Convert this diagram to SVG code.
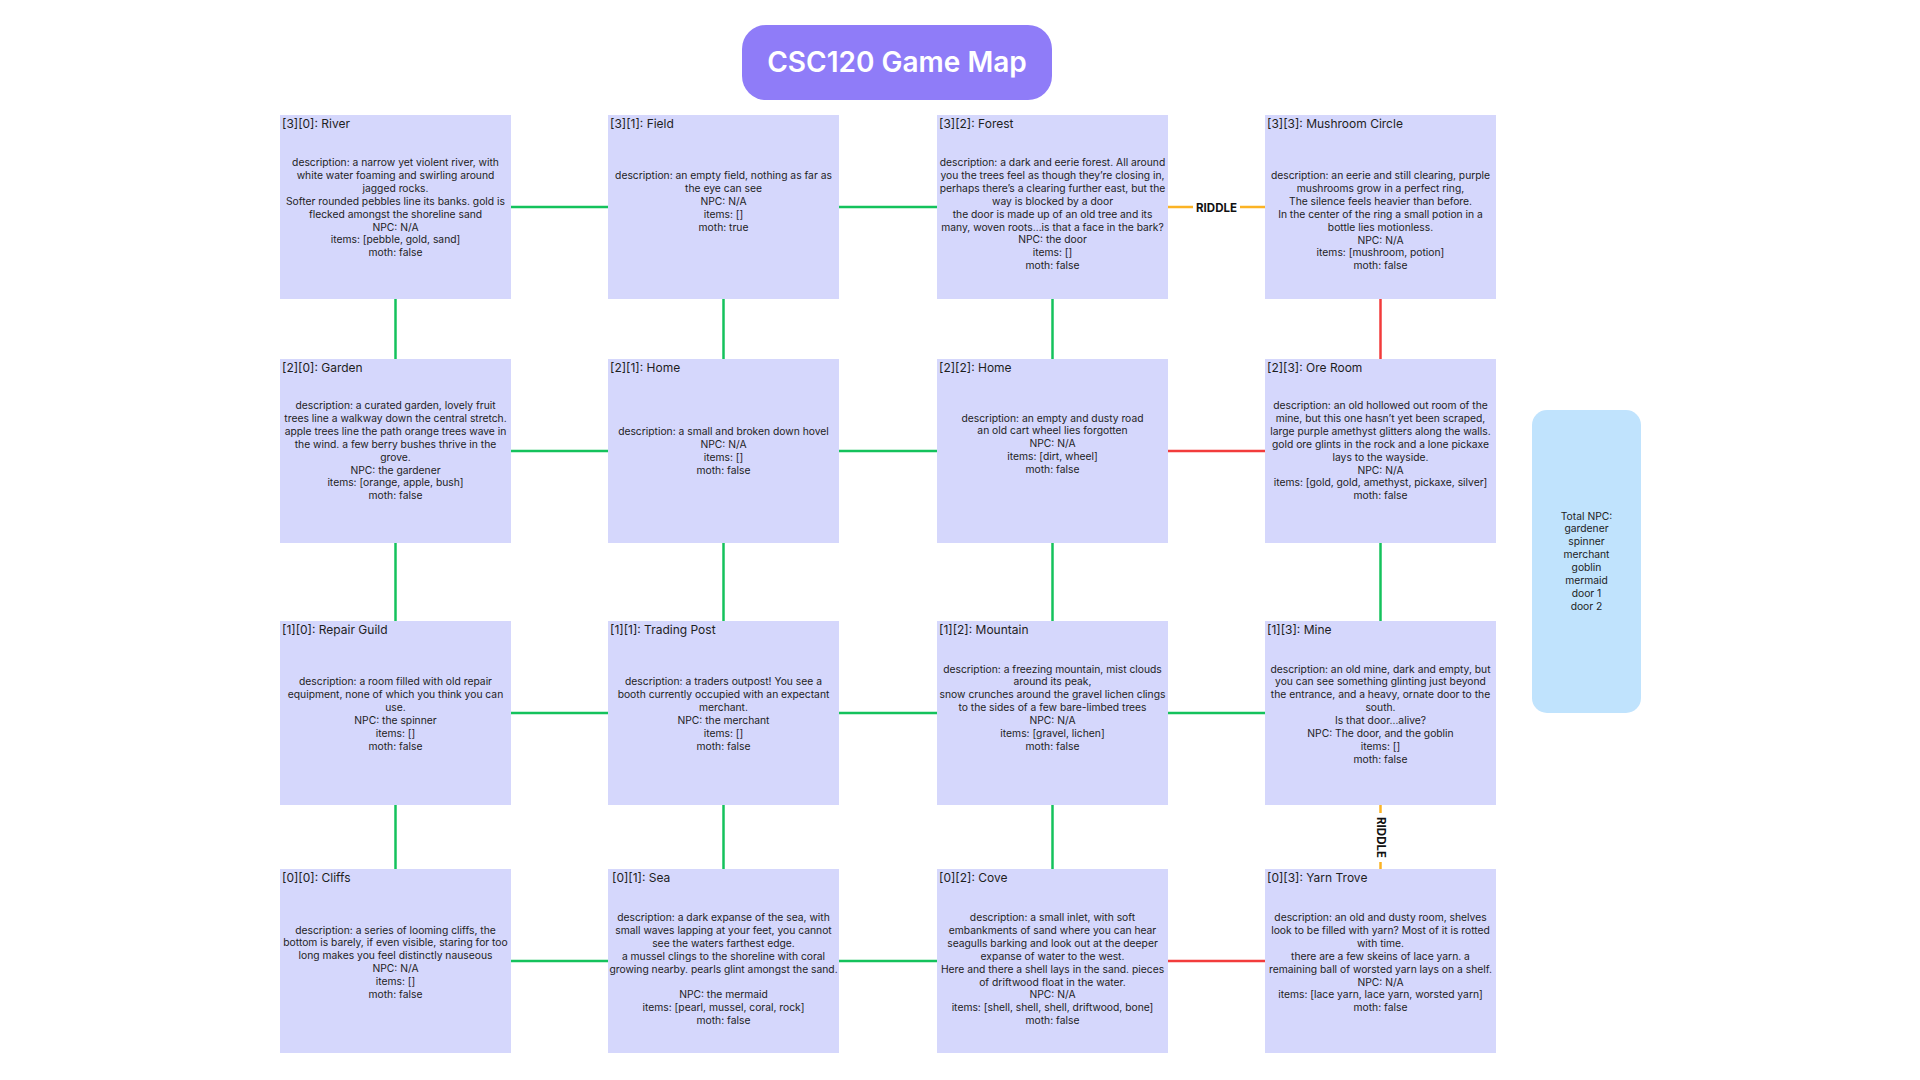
<svg xmlns="http://www.w3.org/2000/svg" width="1920" height="1080" viewBox="0 0 1920 1080">
<style>
.bg{fill:#ffffff}
.node{fill:#d5d7fc}
.t{font-family:Inter,"Liberation Sans",sans-serif;font-size:12px;fill:#1e1e1e}
.d{font-family:Inter,"Liberation Sans",sans-serif;font-size:10.3px;text-anchor:middle;fill:#1e1e1e}
.c{fill:none;stroke-width:2.5}
.g{stroke:#14c25c}
.r{stroke:#f23b3b}
.o{stroke:#fbb324}
.lbl{font-family:Inter,"Liberation Sans",sans-serif;font-size:11.5px;font-weight:700;fill:#111;text-anchor:middle}
</style>
<rect class="bg" x="0" y="0" width="1920" height="1080"/>

<g id="connectors">
  <!-- row 3 -->
  <line class="c g" x1="511" y1="207" x2="608" y2="207"/>
  <line class="c g" x1="839" y1="207" x2="937" y2="207"/>
  <line class="c o" x1="1168" y1="207" x2="1193" y2="207"/>
  <line class="c o" x1="1240" y1="207" x2="1265" y2="207"/>
  <text class="lbl" x="1216.5" y="211.5">RIDDLE</text>
  <!-- row 3 to 2 -->
  <line class="c g" x1="395.5" y1="299" x2="395.5" y2="359"/>
  <line class="c g" x1="723.5" y1="299" x2="723.5" y2="359"/>
  <line class="c g" x1="1052.5" y1="299" x2="1052.5" y2="359"/>
  <line class="c r" x1="1380.5" y1="299" x2="1380.5" y2="359"/>
  <!-- row 2 -->
  <line class="c g" x1="511" y1="451" x2="608" y2="451"/>
  <line class="c g" x1="839" y1="451" x2="937" y2="451"/>
  <line class="c r" x1="1168" y1="451" x2="1265" y2="451"/>
  <!-- row 2 to 1 -->
  <line class="c g" x1="395.5" y1="543" x2="395.5" y2="621"/>
  <line class="c g" x1="723.5" y1="543" x2="723.5" y2="621"/>
  <line class="c g" x1="1052.5" y1="543" x2="1052.5" y2="621"/>
  <line class="c g" x1="1380.5" y1="543" x2="1380.5" y2="621"/>
  <!-- row 1 -->
  <line class="c g" x1="511" y1="713" x2="608" y2="713"/>
  <line class="c g" x1="839" y1="713" x2="937" y2="713"/>
  <line class="c g" x1="1168" y1="713" x2="1265" y2="713"/>
  <!-- row 1 to 0 -->
  <line class="c g" x1="395.5" y1="805" x2="395.5" y2="869"/>
  <line class="c g" x1="723.5" y1="805" x2="723.5" y2="869"/>
  <line class="c g" x1="1052.5" y1="805" x2="1052.5" y2="869"/>
  <line class="c o" x1="1380.5" y1="805" x2="1380.5" y2="813"/>
  <line class="c o" x1="1380.5" y1="862" x2="1380.5" y2="869"/>
  <text class="lbl" x="1380.5" y="837.5" transform="rotate(90 1380.5 837.5)" dy="4">RIDDLE</text>
  <!-- row 0 -->
  <line class="c g" x1="511" y1="961" x2="608" y2="961"/>
  <line class="c g" x1="839" y1="961" x2="937" y2="961"/>
  <line class="c r" x1="1168" y1="961" x2="1265" y2="961"/>
</g>

<g id="title">
  <rect x="742" y="25" width="310" height="75" rx="24" fill="#8f7cf8"/>
  <text x="897" y="72" font-family="Inter,'Liberation Sans',sans-serif" font-size="28" font-weight="600" fill="#ffffff" text-anchor="middle">CSC120 Game Map</text>
</g>

<g id="node-3-0">
  <rect class="node" x="280" y="115" width="231" height="184"/>
  <text class="t" x="282" y="128">[3][0]: River</text>
  <text class="d" y="166"><tspan x="395.5">description: a narrow yet violent river, with</tspan><tspan x="395.5" dy="12.9">white water foaming and swirling around</tspan><tspan x="395.5" dy="12.9">jagged rocks.</tspan><tspan x="395.5" dy="12.9">Softer rounded pebbles line its banks. gold is</tspan><tspan x="395.5" dy="12.9">flecked amongst the shoreline sand</tspan><tspan x="395.5" dy="12.9">NPC: N/A</tspan><tspan x="395.5" dy="12.9">items: [pebble, gold, sand]</tspan><tspan x="395.5" dy="12.9">moth: false</tspan></text>
</g>
<g id="node-3-1">
  <rect class="node" x="608" y="115" width="231" height="184"/>
  <text class="t" x="610" y="128">[3][1]: Field</text>
  <text class="d" y="179"><tspan x="723.5">description: an empty field, nothing as far as</tspan><tspan x="723.5" dy="12.9">the eye can see</tspan><tspan x="723.5" dy="12.9">NPC: N/A</tspan><tspan x="723.5" dy="12.9">items: []</tspan><tspan x="723.5" dy="12.9">moth: true</tspan></text>
</g>
<g id="node-3-2">
  <rect class="node" x="937" y="115" width="231" height="184"/>
  <text class="t" x="939" y="128">[3][2]: Forest</text>
  <text class="d" y="166"><tspan x="1052.5">description: a dark and eerie forest. All around</tspan><tspan x="1052.5" dy="12.9">you the trees feel as though they’re closing in,</tspan><tspan x="1052.5" dy="12.9">perhaps there’s a clearing further east, but the</tspan><tspan x="1052.5" dy="12.9">way is blocked by a door</tspan><tspan x="1052.5" dy="12.9">the door is made up of an old tree and its</tspan><tspan x="1052.5" dy="12.9">many, woven roots…is that a face in the bark?</tspan><tspan x="1052.5" dy="12.9">NPC: the door</tspan><tspan x="1052.5" dy="12.9">items: []</tspan><tspan x="1052.5" dy="12.9">moth: false</tspan></text>
</g>
<g id="node-3-3">
  <rect class="node" x="1265" y="115" width="231" height="184"/>
  <text class="t" x="1267" y="128">[3][3]: Mushroom Circle</text>
  <text class="d" y="179"><tspan x="1380.5">description: an eerie and still clearing, purple</tspan><tspan x="1380.5" dy="12.9">mushrooms grow in a perfect ring,</tspan><tspan x="1380.5" dy="12.9">The silence feels heavier than before.</tspan><tspan x="1380.5" dy="12.9">In the center of the ring a small potion in a</tspan><tspan x="1380.5" dy="12.9">bottle lies motionless.</tspan><tspan x="1380.5" dy="12.9">NPC: N/A</tspan><tspan x="1380.5" dy="12.9">items: [mushroom, potion]</tspan><tspan x="1380.5" dy="12.9">moth: false</tspan></text>
</g>

<g id="node-2-0">
  <rect class="node" x="280" y="359" width="231" height="184"/>
  <text class="t" x="282" y="372">[2][0]: Garden</text>
  <text class="d" y="409"><tspan x="395.5">description: a curated garden, lovely fruit</tspan><tspan x="395.5" dy="12.9">trees line a walkway down the central stretch.</tspan><tspan x="395.5" dy="12.9">apple trees line the path  orange trees wave in</tspan><tspan x="395.5" dy="12.9">the wind. a few berry bushes thrive in the</tspan><tspan x="395.5" dy="12.9">grove.</tspan><tspan x="395.5" dy="12.9">NPC: the gardener</tspan><tspan x="395.5" dy="12.9">items: [orange, apple, bush]</tspan><tspan x="395.5" dy="12.9">moth: false</tspan></text>
</g>
<g id="node-2-1">
  <rect class="node" x="608" y="359" width="231" height="184"/>
  <text class="t" x="610" y="372">[2][1]: Home</text>
  <text class="d" y="435"><tspan x="723.5">description: a small and broken down hovel</tspan><tspan x="723.5" dy="12.9">NPC: N/A</tspan><tspan x="723.5" dy="12.9">items: []</tspan><tspan x="723.5" dy="12.9">moth: false</tspan></text>
</g>
<g id="node-2-2">
  <rect class="node" x="937" y="359" width="231" height="184"/>
  <text class="t" x="939" y="372">[2][2]: Home</text>
  <text class="d" y="421.5"><tspan x="1052.5">description: an empty and dusty road</tspan><tspan x="1052.5" dy="12.9">an old cart wheel lies forgotten</tspan><tspan x="1052.5" dy="12.9">NPC: N/A</tspan><tspan x="1052.5" dy="12.9">items: [dirt, wheel]</tspan><tspan x="1052.5" dy="12.9">moth: false</tspan></text>
</g>
<g id="node-2-3">
  <rect class="node" x="1265" y="359" width="231" height="184"/>
  <text class="t" x="1267" y="372">[2][3]: Ore Room</text>
  <text class="d" y="409"><tspan x="1380.5">description: an old hollowed out room of the</tspan><tspan x="1380.5" dy="12.9">mine, but this one hasn’t yet been scraped,</tspan><tspan x="1380.5" dy="12.9">large purple amethyst glitters along the walls.</tspan><tspan x="1380.5" dy="12.9">gold ore glints in the rock and a lone pickaxe</tspan><tspan x="1380.5" dy="12.9">lays to the wayside.</tspan><tspan x="1380.5" dy="12.9">NPC: N/A</tspan><tspan x="1380.5" dy="12.9">items: [gold, gold, amethyst, pickaxe, silver]</tspan><tspan x="1380.5" dy="12.9">moth: false</tspan></text>
</g>

<g id="node-1-0">
  <rect class="node" x="280" y="621" width="231" height="184"/>
  <text class="t" x="282" y="634">[1][0]: Repair Guild</text>
  <text class="d" y="685"><tspan x="395.5">description: a room filled with old repair</tspan><tspan x="395.5" dy="12.9">equipment, none of which you think you can</tspan><tspan x="395.5" dy="12.9">use.</tspan><tspan x="395.5" dy="12.9">NPC: the spinner</tspan><tspan x="395.5" dy="12.9">items: []</tspan><tspan x="395.5" dy="12.9">moth: false</tspan></text>
</g>
<g id="node-1-1">
  <rect class="node" x="608" y="621" width="231" height="184"/>
  <text class="t" x="610" y="634">[1][1]: Trading Post</text>
  <text class="d" y="685"><tspan x="723.5">description: a traders outpost! You see a</tspan><tspan x="723.5" dy="12.9">booth currently occupied with an expectant</tspan><tspan x="723.5" dy="12.9">merchant.</tspan><tspan x="723.5" dy="12.9">NPC: the merchant</tspan><tspan x="723.5" dy="12.9">items: []</tspan><tspan x="723.5" dy="12.9">moth: false</tspan></text>
</g>
<g id="node-1-2">
  <rect class="node" x="937" y="621" width="231" height="184"/>
  <text class="t" x="939" y="634">[1][2]: Mountain</text>
  <text class="d" y="672.5"><tspan x="1052.5">description: a freezing mountain, mist clouds</tspan><tspan x="1052.5" dy="12.9">around its peak,</tspan><tspan x="1052.5" dy="12.9">snow crunches around the gravel lichen clings</tspan><tspan x="1052.5" dy="12.9">to the sides of a few bare-limbed trees</tspan><tspan x="1052.5" dy="12.9">NPC: N/A</tspan><tspan x="1052.5" dy="12.9">items: [gravel, lichen]</tspan><tspan x="1052.5" dy="12.9">moth: false</tspan></text>
</g>
<g id="node-1-3">
  <rect class="node" x="1265" y="621" width="231" height="184"/>
  <text class="t" x="1267" y="634">[1][3]: Mine</text>
  <text class="d" y="672.5"><tspan x="1380.5">description: an old mine, dark and empty, but</tspan><tspan x="1380.5" dy="12.9">you can see something glinting just beyond</tspan><tspan x="1380.5" dy="12.9">the entrance, and a heavy, ornate door to the</tspan><tspan x="1380.5" dy="12.9">south.</tspan><tspan x="1380.5" dy="12.9">Is that door…alive?</tspan><tspan x="1380.5" dy="12.9">NPC: The door, and the goblin</tspan><tspan x="1380.5" dy="12.9">items: []</tspan><tspan x="1380.5" dy="12.9">moth: false</tspan></text>
</g>

<g id="node-0-0">
  <rect class="node" x="280" y="869" width="231" height="184"/>
  <text class="t" x="282" y="882">[0][0]: Cliffs</text>
  <text class="d" y="933.5"><tspan x="395.5">description: a series of looming cliffs, the</tspan><tspan x="395.5" dy="12.9">bottom is barely, if even visible, staring for too</tspan><tspan x="395.5" dy="12.9">long makes you feel distinctly nauseous</tspan><tspan x="395.5" dy="12.9">NPC: N/A</tspan><tspan x="395.5" dy="12.9">items: []</tspan><tspan x="395.5" dy="12.9">moth: false</tspan></text>
</g>
<g id="node-0-1">
  <rect class="node" x="608" y="869" width="231" height="184"/>
  <text class="t" x="612" y="882">[0][1]: Sea</text>
  <text class="d" y="921"><tspan x="723.5">description: a dark expanse of the sea, with</tspan><tspan x="723.5" dy="12.9">small waves lapping at your feet, you cannot</tspan><tspan x="723.5" dy="12.9">see the waters farthest edge.</tspan><tspan x="723.5" dy="12.9">a mussel clings to the shoreline with coral</tspan><tspan x="723.5" dy="12.9">growing nearby. pearls glint amongst the sand.</tspan><tspan x="723.5" dy="25.8">NPC: the mermaid</tspan><tspan x="723.5" dy="12.9">items: [pearl, mussel, coral, rock]</tspan><tspan x="723.5" dy="12.9">moth: false</tspan></text>
</g>
<g id="node-0-2">
  <rect class="node" x="937" y="869" width="231" height="184"/>
  <text class="t" x="939" y="882">[0][2]: Cove</text>
  <text class="d" y="921"><tspan x="1052.5">description: a small inlet, with soft</tspan><tspan x="1052.5" dy="12.9">embankments of sand where you can hear</tspan><tspan x="1052.5" dy="12.9">seagulls barking and look out at the deeper</tspan><tspan x="1052.5" dy="12.9">expanse of water to the west.</tspan><tspan x="1052.5" dy="12.9">Here and there a shell lays in the sand. pieces</tspan><tspan x="1052.5" dy="12.9">of driftwood float in the water.</tspan><tspan x="1052.5" dy="12.9">NPC: N/A</tspan><tspan x="1052.5" dy="12.9">items: [shell, shell, shell, driftwood, bone]</tspan><tspan x="1052.5" dy="12.9">moth: false</tspan></text>
</g>
<g id="node-0-3">
  <rect class="node" x="1265" y="869" width="231" height="184"/>
  <text class="t" x="1267" y="882">[0][3]: Yarn Trove</text>
  <text class="d" y="921"><tspan x="1380.5">description: an old and dusty room, shelves</tspan><tspan x="1380.5" dy="12.9">look to be filled with yarn? Most of it is rotted</tspan><tspan x="1380.5" dy="12.9">with time.</tspan><tspan x="1380.5" dy="12.9">there are a few skeins of lace yarn. a</tspan><tspan x="1380.5" dy="12.9">remaining ball of worsted yarn lays on a shelf.</tspan><tspan x="1380.5" dy="12.9">NPC: N/A</tspan><tspan x="1380.5" dy="12.9">items: [lace yarn, lace yarn, worsted yarn]</tspan><tspan x="1380.5" dy="12.9">moth: false</tspan></text>
</g>

<g id="npc-summary">
  <rect x="1532" y="410" width="109" height="303" rx="15" fill="#c0e3fd"/>
  <text class="d" y="519.5"><tspan x="1586.5">Total NPC:</tspan><tspan x="1586.5" dy="12.9">gardener</tspan><tspan x="1586.5" dy="12.9">spinner</tspan><tspan x="1586.5" dy="12.9">merchant</tspan><tspan x="1586.5" dy="12.9">goblin</tspan><tspan x="1586.5" dy="12.9">mermaid</tspan><tspan x="1586.5" dy="12.9">door 1</tspan><tspan x="1586.5" dy="12.9">door 2</tspan></text>
</g>
</svg>
